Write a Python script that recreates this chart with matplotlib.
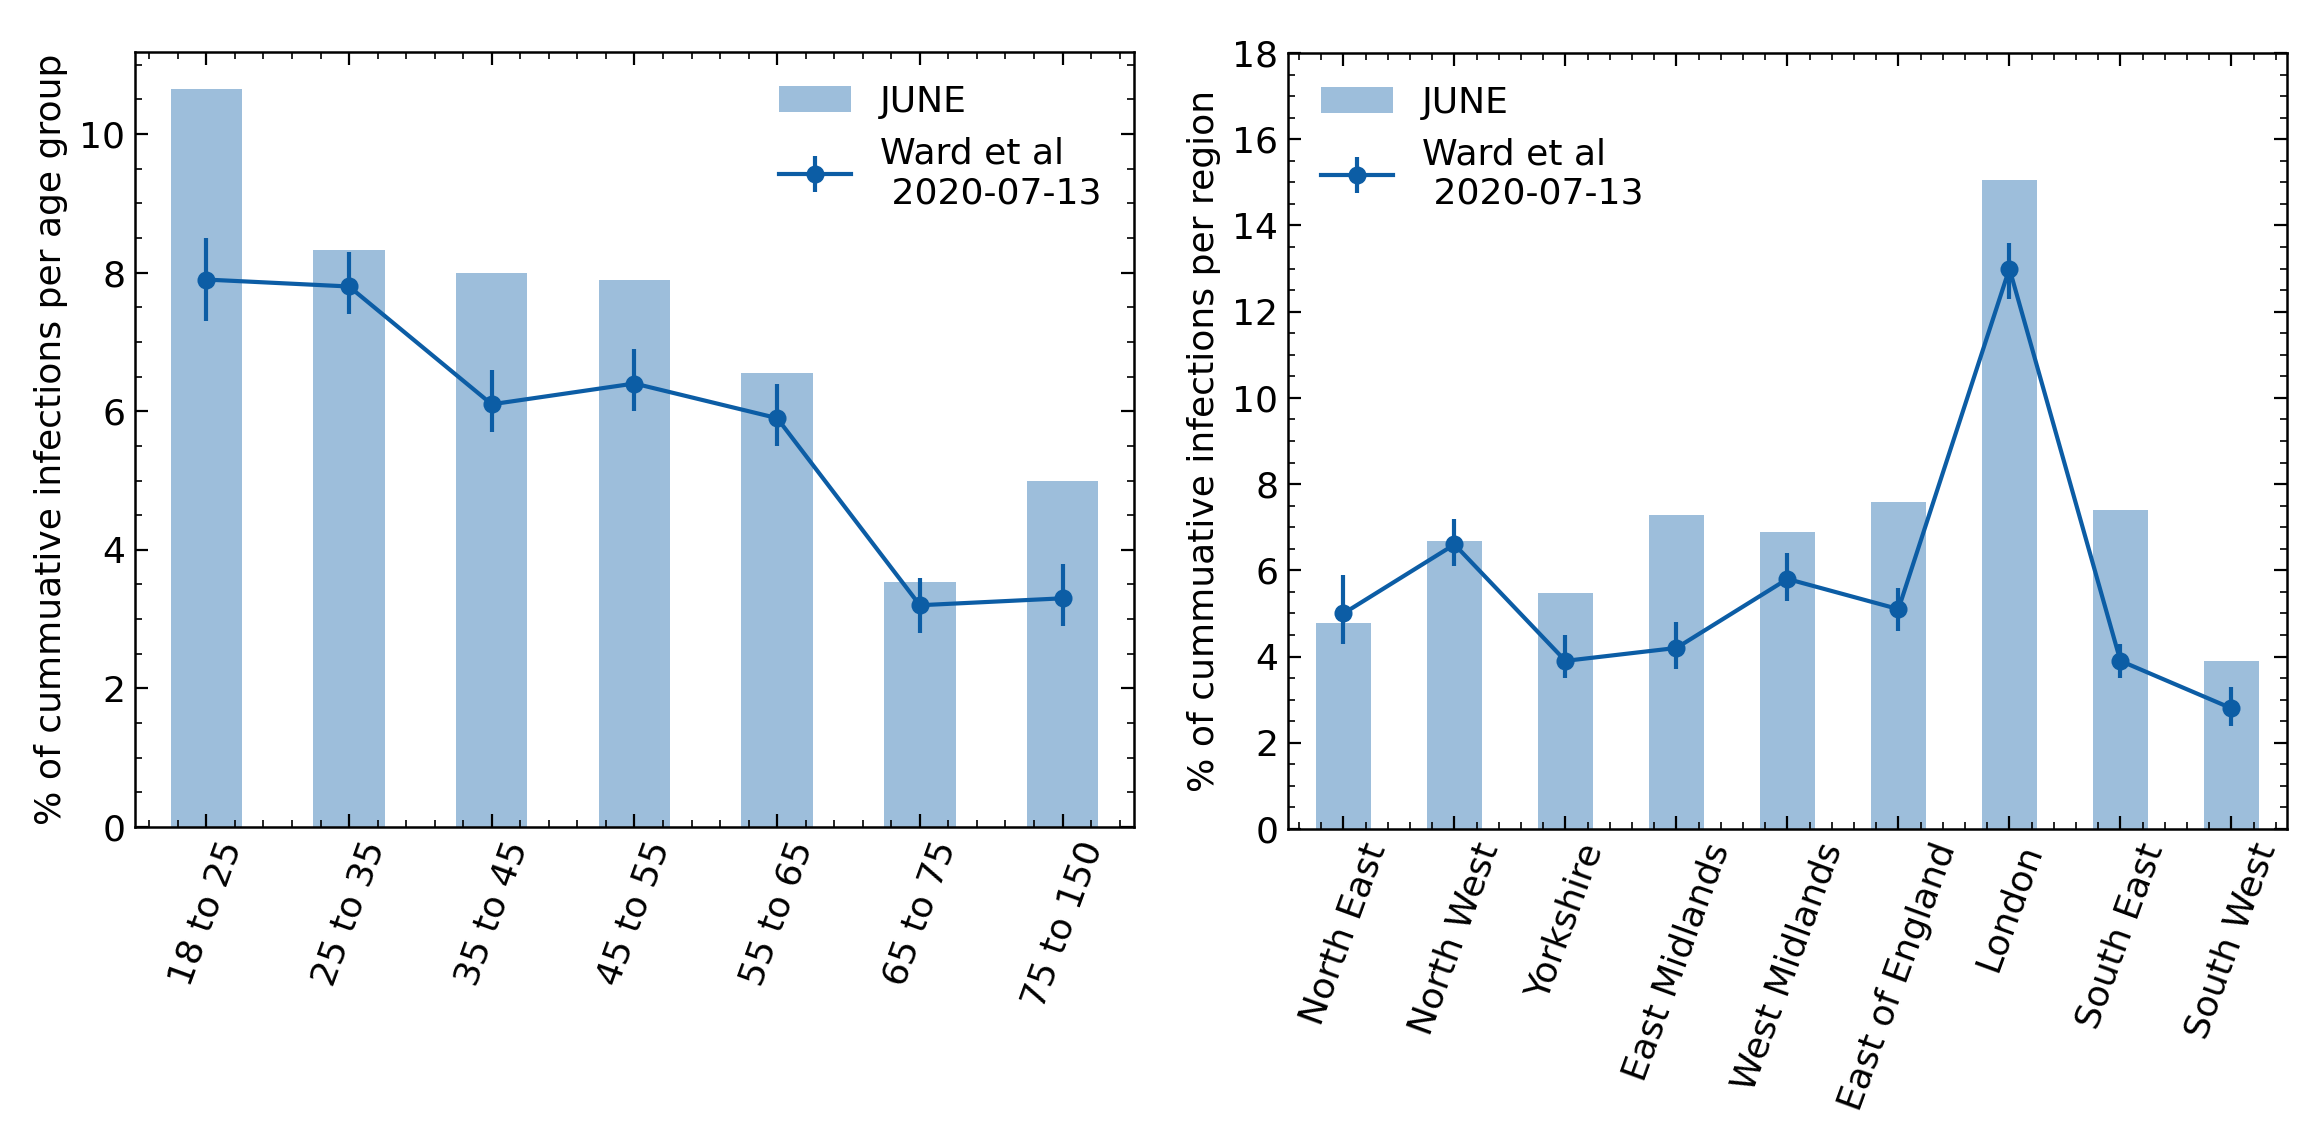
import matplotlib
matplotlib.use("Agg")
import matplotlib.pyplot as plt
import numpy as np
from matplotlib.ticker import AutoMinorLocator

# ---- data ------------------------------------------------------------------
age_groups = ["18 to 25", "25 to 35", "35 to 45", "45 to 55", "55 to 65",
              "65 to 75", "75 to 150"]
june_age = [10.65, 8.33, 7.99, 7.89, 6.55, 3.53, 5.00]
ward_age = [7.9, 7.8, 6.1, 6.4, 5.9, 3.2, 3.3]
ward_age_lo = [7.3, 7.4, 5.7, 6.0, 5.5, 2.8, 2.9]
ward_age_hi = [8.5, 8.3, 6.6, 6.9, 6.4, 3.6, 3.8]

regions = ["North East", "North West", "Yorkshire", "East Midlands",
           "West Midlands", "East of England", "London", "South East",
           "South West"]
june_region = [4.77, 6.68, 5.47, 7.28, 6.89, 7.58, 15.05, 7.41, 3.89]
ward_region = [5.0, 6.6, 3.9, 4.2, 5.8, 5.1, 13.0, 3.9, 2.8]
ward_region_lo = [4.3, 6.1, 3.5, 3.7, 5.3, 4.6, 12.3, 3.5, 2.4]
ward_region_hi = [5.9, 7.2, 4.5, 4.8, 6.4, 5.6, 13.6, 4.3, 3.3]

COL = "#0C5DA5"
FS = 13

plt.rcParams.update({
    "font.family": "DejaVu Sans",
    "font.size": FS,
    "xtick.direction": "in",
    "ytick.direction": "in",
    "xtick.top": True,
    "ytick.right": True,
    "xtick.major.size": 4.8,
    "ytick.major.size": 4.8,
    "xtick.minor.size": 2.5,
    "ytick.minor.size": 2.5,
    "xtick.major.width": 0.8,
    "ytick.major.width": 0.8,
    "xtick.minor.width": 0.6,
    "ytick.minor.width": 0.6,
    "axes.linewidth": 0.9,
})


def panel(ax, cats, bars, vals, lo, hi, ylabel, legend_loc):
    x = np.arange(len(cats))
    vals = np.asarray(vals)
    yerr = [vals - np.asarray(lo), np.asarray(hi) - vals]
    ax.bar(x, bars, width=0.5, color=COL, alpha=0.4, label="JUNE")
    ax.errorbar(x, vals, yerr=yerr, color=COL, marker="o", markersize=5.5,
                linewidth=1.5, elinewidth=1.5, label="Ward et al\n 2020-07-13")
    ax.set_xlim(-0.5, len(cats) - 0.5)
    ax.set_xticks(x)
    ax.set_xticklabels(cats, rotation=70, fontsize=FS)
    ax.xaxis.set_minor_locator(AutoMinorLocator(5))
    ax.yaxis.set_minor_locator(AutoMinorLocator(4))
    ax.set_ylabel(ylabel, fontsize=FS)
    ax.legend(loc=legend_loc, frameon=False, fontsize=FS)


fig = plt.figure(figsize=(11.5, 5.615), dpi=200)
ax1 = fig.add_axes([0.0587, 0.2636, 0.4343, 0.690])
ax2 = fig.add_axes([0.5600, 0.2618, 0.4343, 0.691])

panel(ax1, age_groups, june_age, ward_age, ward_age_lo, ward_age_hi,
      "% of cummuative infections per age group", "upper right")
ax1.set_ylim(bottom=0)

panel(ax2, regions, june_region, ward_region, ward_region_lo, ward_region_hi,
      "% of cummuative infections per region", "upper left")
ax2.set_ylim(0, 18)

fig.savefig("out.png", dpi=200)
